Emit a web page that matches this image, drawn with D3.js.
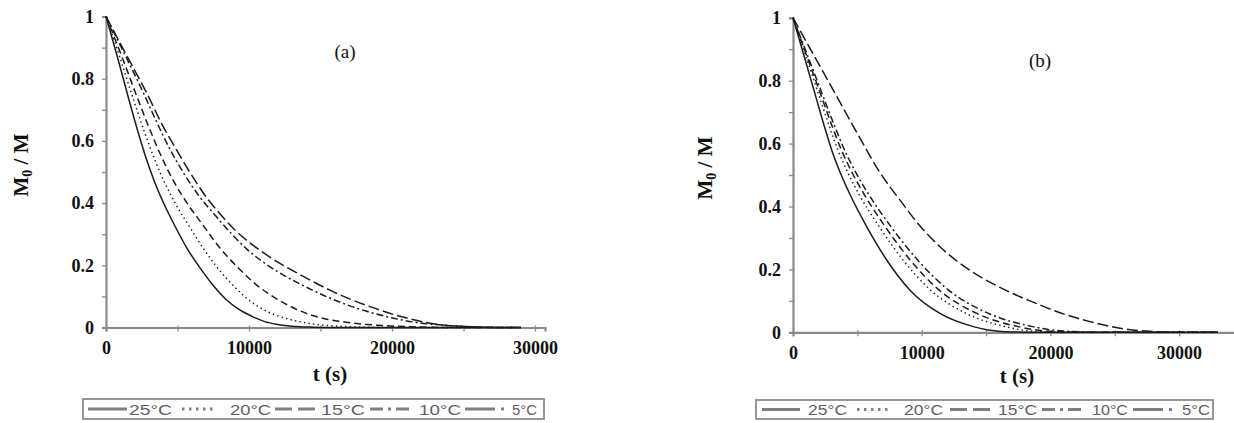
<!DOCTYPE html>
<html><head><meta charset="utf-8">
<script src="https://cdn.jsdelivr.net/npm/d3@7"></script>
<style>html,body{margin:0;padding:0;background:#fff;}svg{display:block;}</style>
</head><body>
<script>
// ---------- data ----------
const categories = ["25°C", "20°C", "15°C", "10°C", "5°C"];
const xTicks = [0, 10000, 20000, 30000];
const yTicks = [0, 0.2, 0.4, 0.6, 0.8, 1];
const panelLabels = ["(a)", "(b)"];
const xTitle = "t (s)";

// Panel (a): [t (s), M0/M]
const a25 = [[0,1],[800,0.87],[1500,0.75],[2200,0.635],[2800,0.545],[3400,0.468],[4100,0.393],[4800,0.328],[5700,0.252],[6600,0.19],[7500,0.135],[8400,0.09],[9300,0.058],[10200,0.036],[11100,0.019],[12000,0.01],[13000,0.004],[14500,0.001],[16000,0],[29000,0]];
const a20 = [[0,1],[960,0.87],[1800,0.75],[2640,0.635],[3360,0.545],[4080,0.468],[4920,0.393],[5760,0.33],[6840,0.252],[7920,0.185],[9000,0.13],[10080,0.085],[11160,0.054],[12240,0.034],[13320,0.021],[14400,0.012],[15600,0.006],[17400,0.002],[19500,0],[29000,0]];
const a15 = [[0,1],[1120,0.87],[2100,0.75],[3080,0.635],[3920,0.545],[4760,0.468],[5740,0.395],[6720,0.333],[7980,0.255],[9240,0.192],[10500,0.138],[11760,0.097],[13020,0.065],[14280,0.041],[15540,0.026],[16800,0.017],[18200,0.01],[20300,0.004],[22500,0.001],[24000,0],[29000,0]];
const a10 = [[0,1],[1400,0.87],[2660,0.75],[3550,0.66],[4475,0.573],[5450,0.495],[6550,0.42],[7740,0.355],[8800,0.3],[9850,0.252],[11470,0.195],[13570,0.14],[15900,0.09],[18230,0.052],[20100,0.03],[21730,0.016],[24060,0.006],[26500,0.001],[28000,0],[29000,0]];
const a05 = [[0,1],[1500,0.87],[2890,0.75],[3900,0.655],[4945,0.57],[5920,0.495],[7000,0.42],[8150,0.356],[9100,0.31],[10070,0.272],[11470,0.226],[13570,0.17],[15660,0.12],[18460,0.067],[20560,0.036],[22660,0.014],[24060,0.006],[26400,0.001],[28000,0],[29000,0]];

// Panel (b)
const b25 = [[0,1],[850,0.88],[1710,0.758],[2400,0.66],[3005,0.58],[3700,0.505],[4430,0.438],[5725,0.336],[7280,0.23],[9090,0.134],[11420,0.06],[14010,0.018],[15050,0.008],[17000,0.001],[19000,0],[33000,0]];
const b20 = [[0,1],[990,0.88],[1980,0.758],[2780,0.66],[3490,0.58],[4290,0.505],[5140,0.438],[6700,0.336],[8550,0.23],[10700,0.134],[13450,0.06],[16500,0.018],[17700,0.008],[20000,0.001],[21500,0],[33000,0]];
const b15 = [[0,1],[1060,0.88],[2140,0.758],[3000,0.66],[3760,0.58],[4625,0.505],[5540,0.438],[7160,0.336],[9100,0.23],[11360,0.134],[14280,0.06],[17500,0.018],[18800,0.008],[21000,0.001],[22500,0],[33000,0]];
const b10 = [[0,1],[1130,0.88],[2270,0.758],[3190,0.66],[4000,0.58],[4920,0.505],[5890,0.438],[7610,0.336],[9680,0.23],[12090,0.134],[15190,0.06],[18630,0.018],[20000,0.008],[22600,0.001],[24000,0],[33000,0]];
const b05 = [[0,1],[1700,0.875],[3400,0.75],[5100,0.625],[6800,0.505],[8300,0.421],[9870,0.338],[11420,0.272],[12980,0.219],[14530,0.177],[16080,0.143],[17640,0.113],[18410,0.1],[20750,0.062],[23080,0.034],[25400,0.013],[27700,0.003],[30000,0],[33000,0]];

// ---------- styles / layout ----------
const dashes = [null, "1.4,3.2", "7,4", "7,3,2,3", "11,4"];
const legendDashes = [null, "2.5,4.5", "17,6", "13,5,3,5", "30,6,3,6"];
const serif = "'Liberation Serif', 'Times New Roman', serif";

const panels = [
  { series: [a25,a20,a15,a10,a05], x0: 106, x1: 545, xMax: 30700, yTop: 16.5, yBot: 327.5,
    label: {x: 345, y: 58}, title: {x: 330, y: 381}, yTitle: {x: 28, y: 165},
    legend: {x: 83, y: 399, w: 461, h: 20,
      lines: [[5,44],[99,132],[192,236],[287,331],[382,424]],
      texts: [[46,43],[147,41],[238,44],[336,42],[429,25]] } },
  { series: [b25,b20,b15,b10,b05], x0: 793, x1: 1236, xMax: 34420, yTop: 17.8, yBot: 332.3,
    label: {x: 1040, y: 67}, title: {x: 1017, y: 383}, yTitle: {x: 712, y: 168},
    legend: {x: 756, y: 400, w: 457, h: 19,
      lines: [[6,44],[101,132],[194,236],[286,329],[377,422]],
      texts: [[52,39],[148,39],[242,39],[336,36],[426,28]] } }
];

const svg = d3.select("body").append("svg").attr("width", 1234).attr("height", 423);
const axisColor = "#8a8a8a";

panels.forEach((p, pi) => {
  const x = d3.scaleLinear().domain([0, p.xMax]).range([p.x0, p.x1]);
  const y = d3.scaleLinear().domain([0, 1]).range([p.yBot, p.yTop]);
  const g = svg.append("g");

  // minor/major tick marks
  const yMinor = d3.range(0, 1.0001, 0.1);
  const xMinor = d3.range(0, p.xMax, 5000);
  const yAx = g.append("g").attr("transform", `translate(${p.x0},0)`)
    .call(d3.axisLeft(y).tickValues(yMinor).tickSize(4).tickFormat(""));
  const xAx = g.append("g").attr("transform", `translate(0,${p.yBot})`)
    .call(d3.axisBottom(x).tickValues(xMinor).tickSize(4).tickFormat(""));
  [yAx, xAx].forEach(a => {
    a.selectAll(".domain").attr("stroke", axisColor).attr("stroke-width", 2.2);
    a.selectAll(".tick line").attr("stroke", axisColor).attr("stroke-width", 1.3);
  });
  xAx.selectAll(".tick line").attr("y1", -2);

  // tick labels
  const yLab = g.append("g").attr("transform", `translate(${p.x0},0)`)
    .call(d3.axisLeft(y).tickValues(yTicks).tickSize(0).tickPadding(12).tickFormat(d => String(+d.toFixed(1))));
  const xLab = g.append("g").attr("transform", `translate(0,${p.yBot})`)
    .call(d3.axisBottom(x).tickValues(xTicks).tickSize(0).tickPadding(14).tickFormat(d => String(d)));
  [yLab, xLab].forEach(a => {
    a.select(".domain").remove();
    a.attr("font-family", null);
    a.selectAll("text").style("font-family", serif)
      .style("font-weight", "bold").style("font-size", "18px").attr("fill", "#111");
  });

  // curves
  const line = d3.line().x(d => x(d[0])).y(d => y(d[1])).curve(d3.curveMonotoneX);
  p.series.forEach((s, i) => {
    g.append("path").datum(s).attr("d", line).attr("fill", "none")
      .attr("stroke", "#1c1c1c").attr("stroke-width", 1.5)
      .attr("stroke-dasharray", dashes[i]);
  });

  // panel label
  g.append("text").attr("x", p.label.x).attr("y", p.label.y).attr("text-anchor", "middle")
    .style("font-family", serif).style("font-size", "19px").attr("fill", "#111")
    .text(panelLabels[pi]);

  // axis titles
  g.append("text").attr("x", p.title.x).attr("y", p.title.y).attr("text-anchor", "middle")
    .style("font-family", serif).style("font-weight", "bold").style("font-size", "21px")
    .attr("fill", "#111").text(xTitle);
  const yt = g.append("text").attr("transform", `translate(${p.yTitle.x},${p.yTitle.y}) rotate(-90)`)
    .attr("text-anchor", "middle").style("font-family", serif)
    .style("font-weight", "bold").style("font-size", "21px").attr("fill", "#111");
  yt.append("tspan").text("M");
  yt.append("tspan").style("font-size", "14px").attr("dy", 4).text("0");
  yt.append("tspan").attr("dy", -4).text(" / M");

  // legend
  const L = p.legend;
  const lg = g.append("g").attr("transform", `translate(${L.x},${L.y})`);
  lg.append("rect").attr("x", 0).attr("y", 0).attr("width", L.w).attr("height", L.h)
    .attr("fill", "#fff").attr("stroke", "#8c8c8c").attr("stroke-width", 1.8);
  categories.forEach((c, i) => {
    const [l0, l1] = L.lines[i];
    lg.append("line").attr("x1", l0).attr("x2", l1).attr("y1", L.h / 2).attr("y2", L.h / 2)
      .attr("stroke", "#808080").attr("stroke-width", 3)
      .attr("stroke-dasharray", legendDashes[i]);
    const [t0, tw] = L.texts[i];
    lg.append("text").attr("x", t0).attr("y", L.h / 2 + 5.5)
      .style("font-family", "'Liberation Sans', Arial, sans-serif").style("font-size", "15px")
      .attr("fill", "#655a6a").attr("textLength", tw).attr("lengthAdjust", "spacingAndGlyphs")
      .text(c);
  });
});
</script>
</body></html>
